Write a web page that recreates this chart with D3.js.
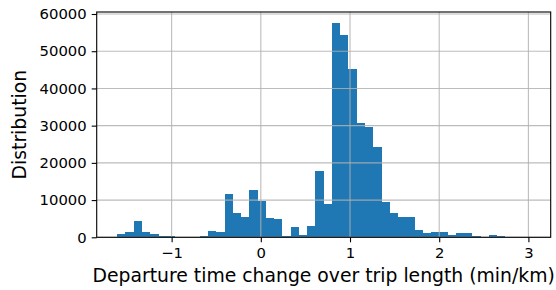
<!DOCTYPE html>
<html>
<head>
<meta charset="utf-8">
<script src="https://cdn.jsdelivr.net/npm/d3@7"></script>
<style>
  body { margin: 0; background: #fff; }
  svg { display: block; font-family: "DejaVu Sans", sans-serif; }
</style>
</head>
<body>
<svg width="556" height="290"></svg>
<script>
// histogram bins: first edge and width
var binStart = -1.61,
    binWidth = 0.0926;

// counts per bin, left to right (50 bins)
var counts = [
  1000, 1500, 4500, 1500, 950, 400, 400, 30, 30, 30,
  300, 1700, 1500, 11650, 6550, 5450, 12700, 9800, 5200, 4900,
  400, 2750, 600, 3000, 17800, 8950, 57600, 54400, 45250, 30700,
  29650, 24300, 9500, 6550, 5450, 5450, 2000, 1150, 1450, 1450,
  600, 1200, 1200, 400, 150, 650, 400, 60, 30, 50
];

var xTicks = [-1, 0, 1, 2, 3];
var yTicks = [0, 10000, 20000, 30000, 40000, 50000, 60000];

var xLabel = "Departure time change over trip length (min/km)";
var yLabel = "Distribution";

var svg = d3.select("svg");

// plot area edges ("top" is taken by window.top, so prefix them)
var plotLeft = 96.7, plotRight = 550.7, plotTop = 12, plotBottom = 237.3;

var x = d3.scaleLinear().domain([-1.84, 3.25]).range([plotLeft, plotRight]);
var y = d3.scaleLinear()
  .domain([0, 60000 * (plotBottom - plotTop) / (plotBottom - 14)])
  .range([plotBottom, plotTop]);

var bins = counts.map(function(c, i) {
  return { x0: binStart + i * binWidth, x1: binStart + (i + 1) * binWidth, n: c };
});

svg.append("g")
  .selectAll("rect")
  .data(bins)
  .join("rect")
    .attr("x", function(d) { return x(d.x0); })
    .attr("width", function(d) { return x(d.x1) - x(d.x0); })
    .attr("y", function(d) { return y(d.n); })
    .attr("height", function(d) { return plotBottom - y(d.n); })
    .attr("fill", "#1f77b4")
    .attr("shape-rendering", "crispEdges");

// grid (drawn on top of the bars, like matplotlib does)
var grid = svg.append("g")
  .attr("stroke", "#b0b0b0")
  .attr("stroke-width", 1.1)
  .attr("stroke-opacity", 0.85);
grid.selectAll("line.v")
  .data(xTicks)
  .join("line")
    .attr("class", "v")
    .attr("x1", function(d) { return x(d); })
    .attr("x2", function(d) { return x(d); })
    .attr("y1", plotTop)
    .attr("y2", plotBottom);
grid.selectAll("line.h")
  .data(yTicks)
  .join("line")
    .attr("class", "h")
    .attr("x1", plotLeft)
    .attr("x2", plotRight)
    .attr("y1", function(d) { return y(d); })
    .attr("y2", function(d) { return y(d); });

// axes
var xAxis = d3.axisBottom(x)
  .tickValues(xTicks)
  .tickSize(5)
  .tickPadding(5)
  .tickFormat(function(d) { return d < 0 ? "\u2212" + Math.abs(d) : d; });

var yAxis = d3.axisLeft(y)
  .tickValues(yTicks)
  .tickSize(5)
  .tickPadding(5)
  .tickFormat(d3.format("d"));

var gx = svg.append("g").attr("transform", "translate(0," + plotBottom + ")").call(xAxis);
var gy = svg.append("g").attr("transform", "translate(" + plotLeft + ",0)").call(yAxis);

[gx, gy].forEach(function(g) {
  g.attr("font-size", null).attr("font-family", null);
  g.select(".domain").remove();
  g.selectAll(".tick line").attr("stroke", "#000").attr("stroke-width", 1.1);
  g.selectAll(".tick text")
    .attr("fill", "#000")
    .style("font-size", "14.8px");
});

// frame
svg.append("rect")
  .attr("x", plotLeft)
  .attr("y", plotTop)
  .attr("width", plotRight - plotLeft)
  .attr("height", plotBottom - plotTop)
  .attr("fill", "none")
  .attr("stroke", "#000")
  .attr("stroke-width", 1.1);

svg.append("text")
  .attr("x", (plotLeft + plotRight) / 2)
  .attr("y", 282.3)
  .attr("text-anchor", "middle")
  .style("font-size", "18.8px")
  .text(xLabel);

svg.append("text")
  .attr("transform", "translate(25.5," + (plotTop + plotBottom) / 2 + ") rotate(-90)")
  .attr("text-anchor", "middle")
  .style("font-size", "18.8px")
  .text(yLabel);
</script>
</body>
</html>
